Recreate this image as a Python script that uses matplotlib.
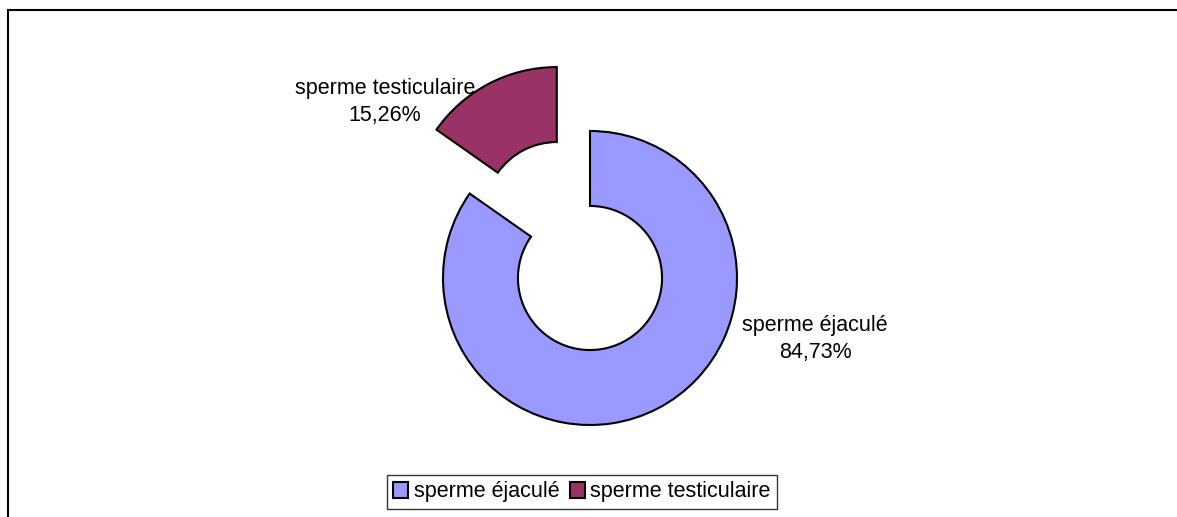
import matplotlib
matplotlib.use("Agg")
import matplotlib.pyplot as plt
from matplotlib.lines import Line2D

categories = ["sperme éjaculé", "sperme testiculaire"]
values = [84.73, 15.26]
colors = ["#9999FF", "#993366"]
explode = [0.0, 0.49]

plt.rcParams['font.family'] = ['Liberation Sans', 'DejaVu Sans']

W, H = 1177, 517
fig = plt.figure(figsize=(W / 100, H / 100), dpi=100)
ax = fig.add_axes([0, 0, 1, 1])

R = 147.0
cx, cy = 590.0, 278.0  # pixel center (from top)

wedges, _ = ax.pie(values, colors=colors, startangle=90, counterclock=False,
                   explode=explode, radius=1.0,
                   wedgeprops=dict(width=0.51, edgecolor="black", linewidth=1.5))

ax.set_xlim(-cx / R, (W - cx) / R)
ax.set_ylim(-(H - cy) / R, cy / R)
ax.set_aspect('equal')
ax.axis('off')

def px(x, y):
    return ((x - cx) / R, (cy - y) / R)

lab_pos = [(815, 339), (385, 102)]
for cat, v, (x, y) in zip(categories, values, lab_pos):
    txt = f"{cat}\n{v:.2f}%".replace('.', ',')
    ax.text(*px(x, y), txt, ha='center', va='center', fontsize=15.5,
            linespacing=1.42, color='black')

# border
fig.add_artist(Line2D([7.5 / W, 7.5 / W], [0, 1 - 9.5 / H], color='black', lw=1.5,
                      transform=fig.transFigure))
fig.add_artist(Line2D([7.5 / W, 1.0], [1 - 9.5 / H, 1 - 9.5 / H], color='black', lw=1.5,
                      transform=fig.transFigure))

leg = fig.legend(wedges, categories, loc='center', bbox_to_anchor=(582 / W, 1 - 492 / H),
                 ncol=2, frameon=True, fancybox=False, fontsize=15.5,
                 handlelength=0.7, handleheight=0.7, handletextpad=0.25,
                 columnspacing=0.5, borderpad=0.3, borderaxespad=0)
leg.get_frame().set_edgecolor('black')
leg.get_frame().set_linewidth(1.0)

fig.savefig("out.png", dpi=100)
